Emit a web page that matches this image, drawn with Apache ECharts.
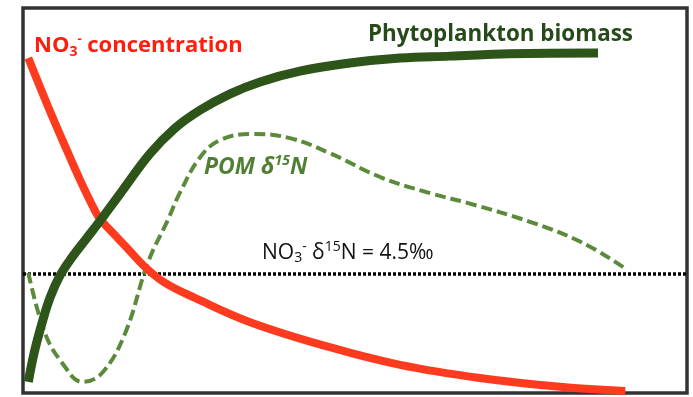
<!DOCTYPE html>
<html>
<head>
<meta charset="utf-8">
<script src="https://cdn.jsdelivr.net/npm/echarts@6/dist/echarts.min.js"></script>
<style>
  html, body { margin: 0; padding: 0; background: #fff; }
  #chart { width: 693px; height: 397px; }
</style>
</head>
<body>
<div id="chart"></div>
<script>
// Conceptual bloom curves on a normalised 0–100 time / 0–100 response scale.
const nitrateX = [0.8, 3.8, 6.8, 8.6, 10.8, 11.6, 13.4, 15.4, 18.4, 21.4, 25.9, 34.2, 46.2, 56.8, 68.8, 80.9, 90.7];
const nitrateY = [87.0, 74.3, 62.3, 55.3, 47.5, 45.2, 41.8, 38.2, 32.7, 28.6, 24.7, 18.4, 11.9, 7.3, 3.9, 1.6, 0.5];

const biomassX = [0.8, 1.7, 2.9, 4.1, 5.6, 7.4, 9.5, 11.6, 14.6, 19.1, 22.9, 26.7, 31.2, 35.7, 41.7, 49.2, 56.8, 64.3, 73.3, 86.6];
const biomassY = [2.9, 10.6, 18.4, 24.9, 30.6, 35.3, 40.0, 44.7, 51.7, 62.1, 68.8, 73.5, 77.7, 80.8, 83.6, 85.7, 87.0, 87.5, 88.1, 88.3];

const pomX = [0.8, 3.3, 5.9, 8.9, 11.9, 15.4, 18.8, 21.8, 23.6, 26.7, 29.7, 34.6, 40.2, 46.2, 53.8, 61.3, 66.9, 76.8, 84.3, 90.4];
const pomY = [31.2, 15.6, 7.8, 2.9, 5.2, 15.6, 33.8, 44.9, 51.9, 61.3, 65.7, 67.3, 66.2, 62.3, 56.1, 51.9, 49.4, 44.2, 39.0, 32.7];

// Source nitrate δ15N reference level
const nitrateD15N = 30.9;

const pairs = (xs, ys) => xs.map((x, i) => [x, ys[i]]);

const chart = echarts.init(document.getElementById('chart'), null, { renderer: 'canvas' });

const FONT = '"Open Sans", Lato, sans-serif';

chart.setOption({
  animation: false,
  backgroundColor: '#ffffff',
  grid: {
    left: 23, right: 6, top: 8, bottom: 4,
    show: true,
    borderColor: '#333333',
    borderWidth: 3.5,
    backgroundColor: 'transparent'
  },
  xAxis: {
    type: 'value', min: 0, max: 100,
    axisLine: { show: false }, axisTick: { show: false },
    axisLabel: { show: false }, splitLine: { show: false }
  },
  yAxis: {
    type: 'value', min: 0, max: 100,
    axisLine: { show: false }, axisTick: { show: false },
    axisLabel: { show: false }, splitLine: { show: false }
  },
  series: [
    {
      name: 'NO3 d15N',
      type: 'line',
      data: [[0, nitrateD15N], [100, nitrateD15N]],
      symbol: 'none',
      z: 1,
      lineStyle: { color: '#000000', width: 3.5, type: [3, 2], cap: 'butt' }
    },
    {
      name: 'POM d15N',
      type: 'line',
      data: pairs(pomX, pomY),
      smooth: 0.4,
      symbol: 'none',
      z: 2,
      lineStyle: { color: '#5a8a3a', width: 4, type: [11, 5], cap: 'butt' }
    },
    {
      name: 'NO3 concentration',
      type: 'line',
      data: pairs(nitrateX, nitrateY),
      smooth: 0.4,
      symbol: 'none',
      z: 3,
      lineStyle: { color: '#ff3b1f', width: 8, cap: 'butt' }
    },
    {
      name: 'Phytoplankton biomass',
      type: 'line',
      data: pairs(biomassX, biomassY),
      smooth: 0.4,
      symbol: 'none',
      z: 4,
      lineStyle: { color: '#2d5419', width: 9, cap: 'butt' }
    }
  ],
  graphic: [
    {
      type: 'text', left: 34, top: 33, z: 10,
      style: {
        text: '{b|NO}{sub|3}{sup|-}{b| concentration}',
        rich: {
          b: { fontFamily: FONT, fontWeight: 'bold', fontSize: 22, fill: '#ff1e0e', lineHeight: 28 },
          sub: { fontFamily: FONT, fontWeight: 'bold', fontSize: 14, fill: '#ff1e0e', lineHeight: 14, padding: [12, 0, 0, 0] },
          sup: { fontFamily: FONT, fontWeight: 'bold', fontSize: 13, fill: '#ff1e0e', lineHeight: 13, padding: [0, 0, 13, 0] }
        }
      }
    },
    {
      type: 'text', left: 368, top: 21, z: 10,
      style: {
        text: 'Phytoplankton biomass',
        fontFamily: FONT, fontWeight: 'bold', fontSize: 22.4, lineHeight: 28, fill: '#274a1a'
      }
    },
    {
      type: 'text', left: 204, top: 154, z: 10,
      style: {
        text: '{i|POM δ}{s|15}{i|N}',
        rich: {
          i: { fontFamily: FONT, fontWeight: 'bold', fontStyle: 'italic', fontSize: 23, fill: '#4f7f33', lineHeight: 28 },
          s: { fontFamily: FONT, fontWeight: 'bold', fontStyle: 'italic', fontSize: 14, fill: '#4f7f33', lineHeight: 14, padding: [0, 0, 12, 0] }
        }
      }
    },
    {
      type: 'text', left: 262, top: 240, z: 10,
      style: {
        text: '{t|NO}{sub|3}{sup|-}{t| δ}{sup|15}{t|N = 4.5‰}',
        rich: {
          t: { fontFamily: FONT, fontSize: 21, fill: '#111111', lineHeight: 27 },
          sub: { fontFamily: FONT, fontSize: 14, fill: '#111111', lineHeight: 14, padding: [11, 0, 0, 0] },
          sup: { fontFamily: FONT, fontSize: 14, fill: '#111111', lineHeight: 14, padding: [0, 0, 12, 0] }
        }
      }
    }
  ]
});
</script>
</body>
</html>
